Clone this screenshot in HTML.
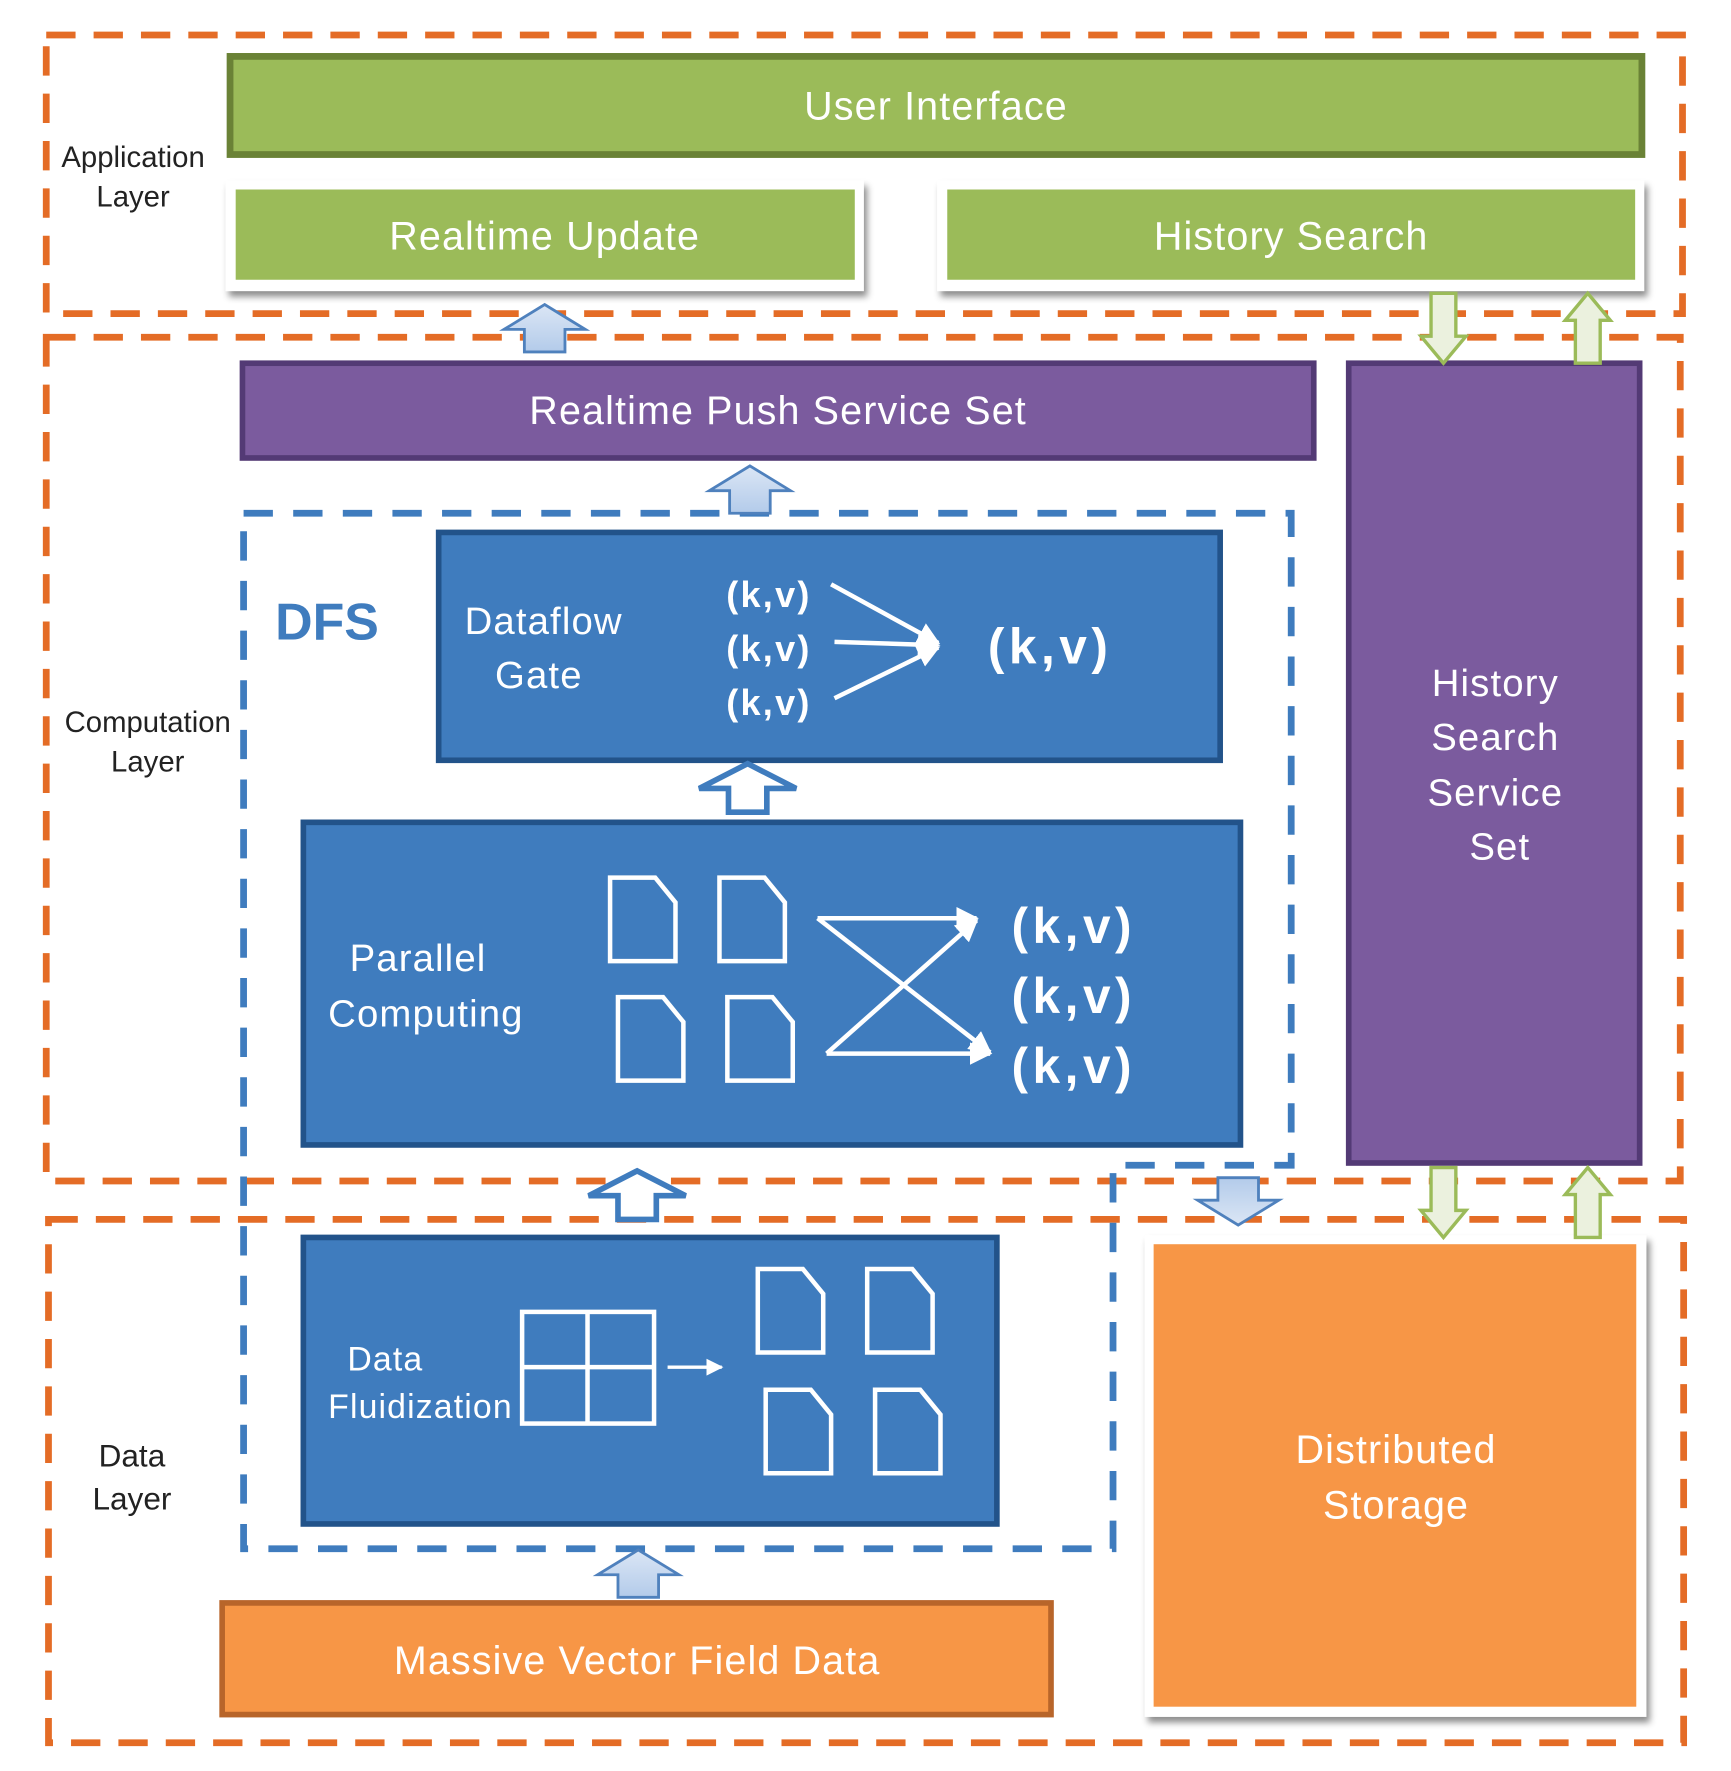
<!DOCTYPE html>
<html><head><meta charset="utf-8"><style>
html,body{margin:0;padding:0;background:#fff;}
svg{display:block;}
text{font-family:"Liberation Sans","Noto Sans CJK SC",sans-serif;}
.w{letter-spacing:1px;}
</style></head><body>
<svg width="1731" height="1771" viewBox="0 0 1535 1570" preserveAspectRatio="none" xmlns="http://www.w3.org/2000/svg">
<defs>
<filter id="sh" x="-5%" y="-5%" width="115%" height="120%"><feDropShadow dx="3" dy="5" stdDeviation="3" flood-color="#000" flood-opacity="0.45"/></filter>
<linearGradient id="bg" x1="0" y1="0" x2="0" y2="1"><stop offset="0" stop-color="#dbe6f5"/><stop offset="1" stop-color="#b3cbea"/></linearGradient>
<marker id="ah" viewBox="0 0 10 10" refX="9" refY="5" markerWidth="5" markerHeight="5" orient="auto"><path d="M0,0 L10,5 L0,10 Z" fill="#fff"/></marker>
<g id="doc"><path d="M0,0 H40 L58,22 V74 H0 Z" fill="none" stroke="#fff" stroke-width="4"/></g>
<g id="upb"><path d="M-36,22 L0,0 L36,22 L18,22 L18,42 L-18,42 L-18,22 Z" fill="url(#bg)" stroke="#4f81bd" stroke-width="2.5"/></g>
<g id="upw"><path d="M-43,22 L0,0 L43,22 L17,22 L17,43 L-17,43 L-17,22 Z" fill="#fff" stroke="#3f7cbe" stroke-width="5"/></g>
<g id="dng"><path d="M-11,0 H11 V38 H20 L0,62 L-20,38 H-11 Z" fill="#ebf1de" stroke="#9bbb59" stroke-width="3"/></g>
</defs>

<g fill="none" stroke="#e46c26" stroke-width="6" stroke-dasharray="26,16">
<rect x="41" y="31" width="1451" height="247"/>
<rect x="41" y="299" width="1449" height="748"/>
<rect x="43" y="1081" width="1450" height="464"/>
</g>

<g font-size="26" fill="#222" text-anchor="middle">
<text x="118" y="148">Application</text><text x="118" y="183">Layer</text>
<text x="131" y="649">Computation</text><text x="131" y="684">Layer</text>
<text x="117" y="1300" font-size="28">Data</text><text x="117" y="1338" font-size="28">Layer</text>
</g>

<rect x="204" y="50" width="1252" height="87" fill="#9bbb59" stroke="#6a8236" stroke-width="6"/>
<text class="w" x="830" y="106" font-size="35" fill="#fff" text-anchor="middle">User Interface</text>
<rect x="200" y="160" width="566" height="98" fill="#fff" filter="url(#sh)"/>
<rect x="209" y="168" width="549" height="80" fill="#9bbb59"/>
<text class="w" x="483" y="221" font-size="35" fill="#fff" text-anchor="middle">Realtime Update</text>
<rect x="831" y="160" width="627" height="98" fill="#fff" filter="url(#sh)"/>
<rect x="840" y="168" width="610" height="80" fill="#9bbb59"/>
<text class="w" x="1145" y="221" font-size="35" fill="#fff" text-anchor="middle">History Search</text>

<rect x="215" y="322" width="950" height="84" fill="#7b5b9e" stroke="#533a75" stroke-width="5"/>
<text class="w" x="690" y="376" font-size="35" fill="#fff" text-anchor="middle">Realtime Push Service Set</text>
<rect x="1196" y="322" width="258" height="709" fill="#7b5b9e" stroke="#533a75" stroke-width="5"/>
<g font-size="34" fill="#fff" text-anchor="middle" class="w">
<text x="1326" y="617">History</text><text x="1326" y="665">Search</text><text x="1326" y="714">Service</text><text x="1330" y="762">Set</text>
</g>

<path d="M216,455 H1145 V1033 H987 V1373 H216 Z" fill="none" stroke="#3f7cbe" stroke-width="6" stroke-dasharray="26,18"/>
<text x="244" y="567" font-size="46" font-weight="bold" fill="#3f7cbe">DFS</text>

<rect x="389" y="472" width="693" height="202" fill="#3f7cbe" stroke="#22538a" stroke-width="5"/>
<text class="w" x="412" y="562" font-size="34" fill="#fff">Dataflow</text>
<text class="w" x="439" y="610" font-size="34" fill="#fff">Gate</text>
<g font-size="32" font-weight="bold" fill="#fff">
<text x="644" y="538" letter-spacing="2">(k,v)</text><text x="644" y="586" letter-spacing="2">(k,v)</text><text x="644" y="634" letter-spacing="2">(k,v)</text>
</g>
<text x="876" y="588" font-size="44" font-weight="bold" fill="#fff" letter-spacing="4">(k,v)</text>
<g stroke="#fff" stroke-width="4" marker-end="url(#ah)">
<line x1="737" y1="518" x2="832" y2="570"/><line x1="740" y1="569" x2="832" y2="572"/><line x1="740" y1="619" x2="832" y2="574"/>
</g>

<rect x="269" y="729" width="831" height="286" fill="#3f7cbe" stroke="#22538a" stroke-width="5"/>
<text class="w" x="310" y="861" font-size="34" fill="#fff">Parallel</text>
<text class="w" x="291" y="910" font-size="34" fill="#fff">Computing</text>
<use href="#doc" x="541" y="778"/><use href="#doc" x="638" y="778"/><use href="#doc" x="548" y="884"/><use href="#doc" x="645" y="884"/>
<g stroke="#fff" stroke-width="4" marker-end="url(#ah)">
<line x1="725" y1="814" x2="866" y2="814"/><line x1="725" y1="814" x2="878" y2="933"/>
<line x1="733" y1="934" x2="878" y2="934"/><line x1="733" y1="934" x2="866" y2="816"/>
</g>
<g font-size="44" font-weight="bold" fill="#fff" letter-spacing="4">
<text x="897" y="836">(k,v)</text><text x="897" y="898">(k,v)</text><text x="897" y="960">(k,v)</text>
</g>

<rect x="269" y="1097" width="615" height="254" fill="#3f7cbe" stroke="#22538a" stroke-width="5"/>
<text x="308" y="1215" font-size="30" fill="#fff" class="w">Data</text>
<text x="291" y="1257" font-size="30" fill="#fff" class="w">Fluidization</text>
<g fill="none" stroke="#fff" stroke-width="4">
<rect x="463" y="1163" width="117" height="99"/><line x1="521" y1="1163" x2="521" y2="1262"/><line x1="463" y1="1212" x2="580" y2="1212"/>
</g>
<line x1="592" y1="1212" x2="640" y2="1212" stroke="#fff" stroke-width="3" marker-end="url(#ah)"/>
<use href="#doc" x="672" y="1125"/><use href="#doc" x="769" y="1125"/><use href="#doc" x="679" y="1232"/><use href="#doc" x="776" y="1232"/>

<rect x="197" y="1421" width="735" height="99" fill="#f79646" stroke="#b8652a" stroke-width="5"/>
<text class="w" x="565" y="1484" font-size="35" fill="#fff" text-anchor="middle">Massive  Vector Field Data</text>
<rect x="1015" y="1095" width="445" height="427" fill="#fff" filter="url(#sh)"/>
<rect x="1023" y="1103" width="428" height="410" fill="#f79646"/>
<text class="w" x="1238" y="1297" font-size="35" fill="#fff" text-anchor="middle">Distributed</text>
<text class="w" x="1238" y="1346" font-size="35" fill="#fff" text-anchor="middle">Storage</text>

<use href="#upb" x="483" y="270"/>
<use href="#upb" x="665" y="413"/>
<use href="#upw" x="663" y="677"/>
<use href="#upw" x="565" y="1038"/>
<use href="#upb" x="566" y="1374"/>
<g transform="translate(1098,1086) scale(1,-1)"><use href="#upb"/></g>
<use href="#dng" x="1280" y="260"/>
<use href="#dng" x="1280" y="1035"/>
<g transform="translate(1408,322) scale(1,-1)"><use href="#dng"/></g>
<g transform="translate(1408,1097) scale(1,-1)"><use href="#dng"/></g>
</svg>
</body></html>
